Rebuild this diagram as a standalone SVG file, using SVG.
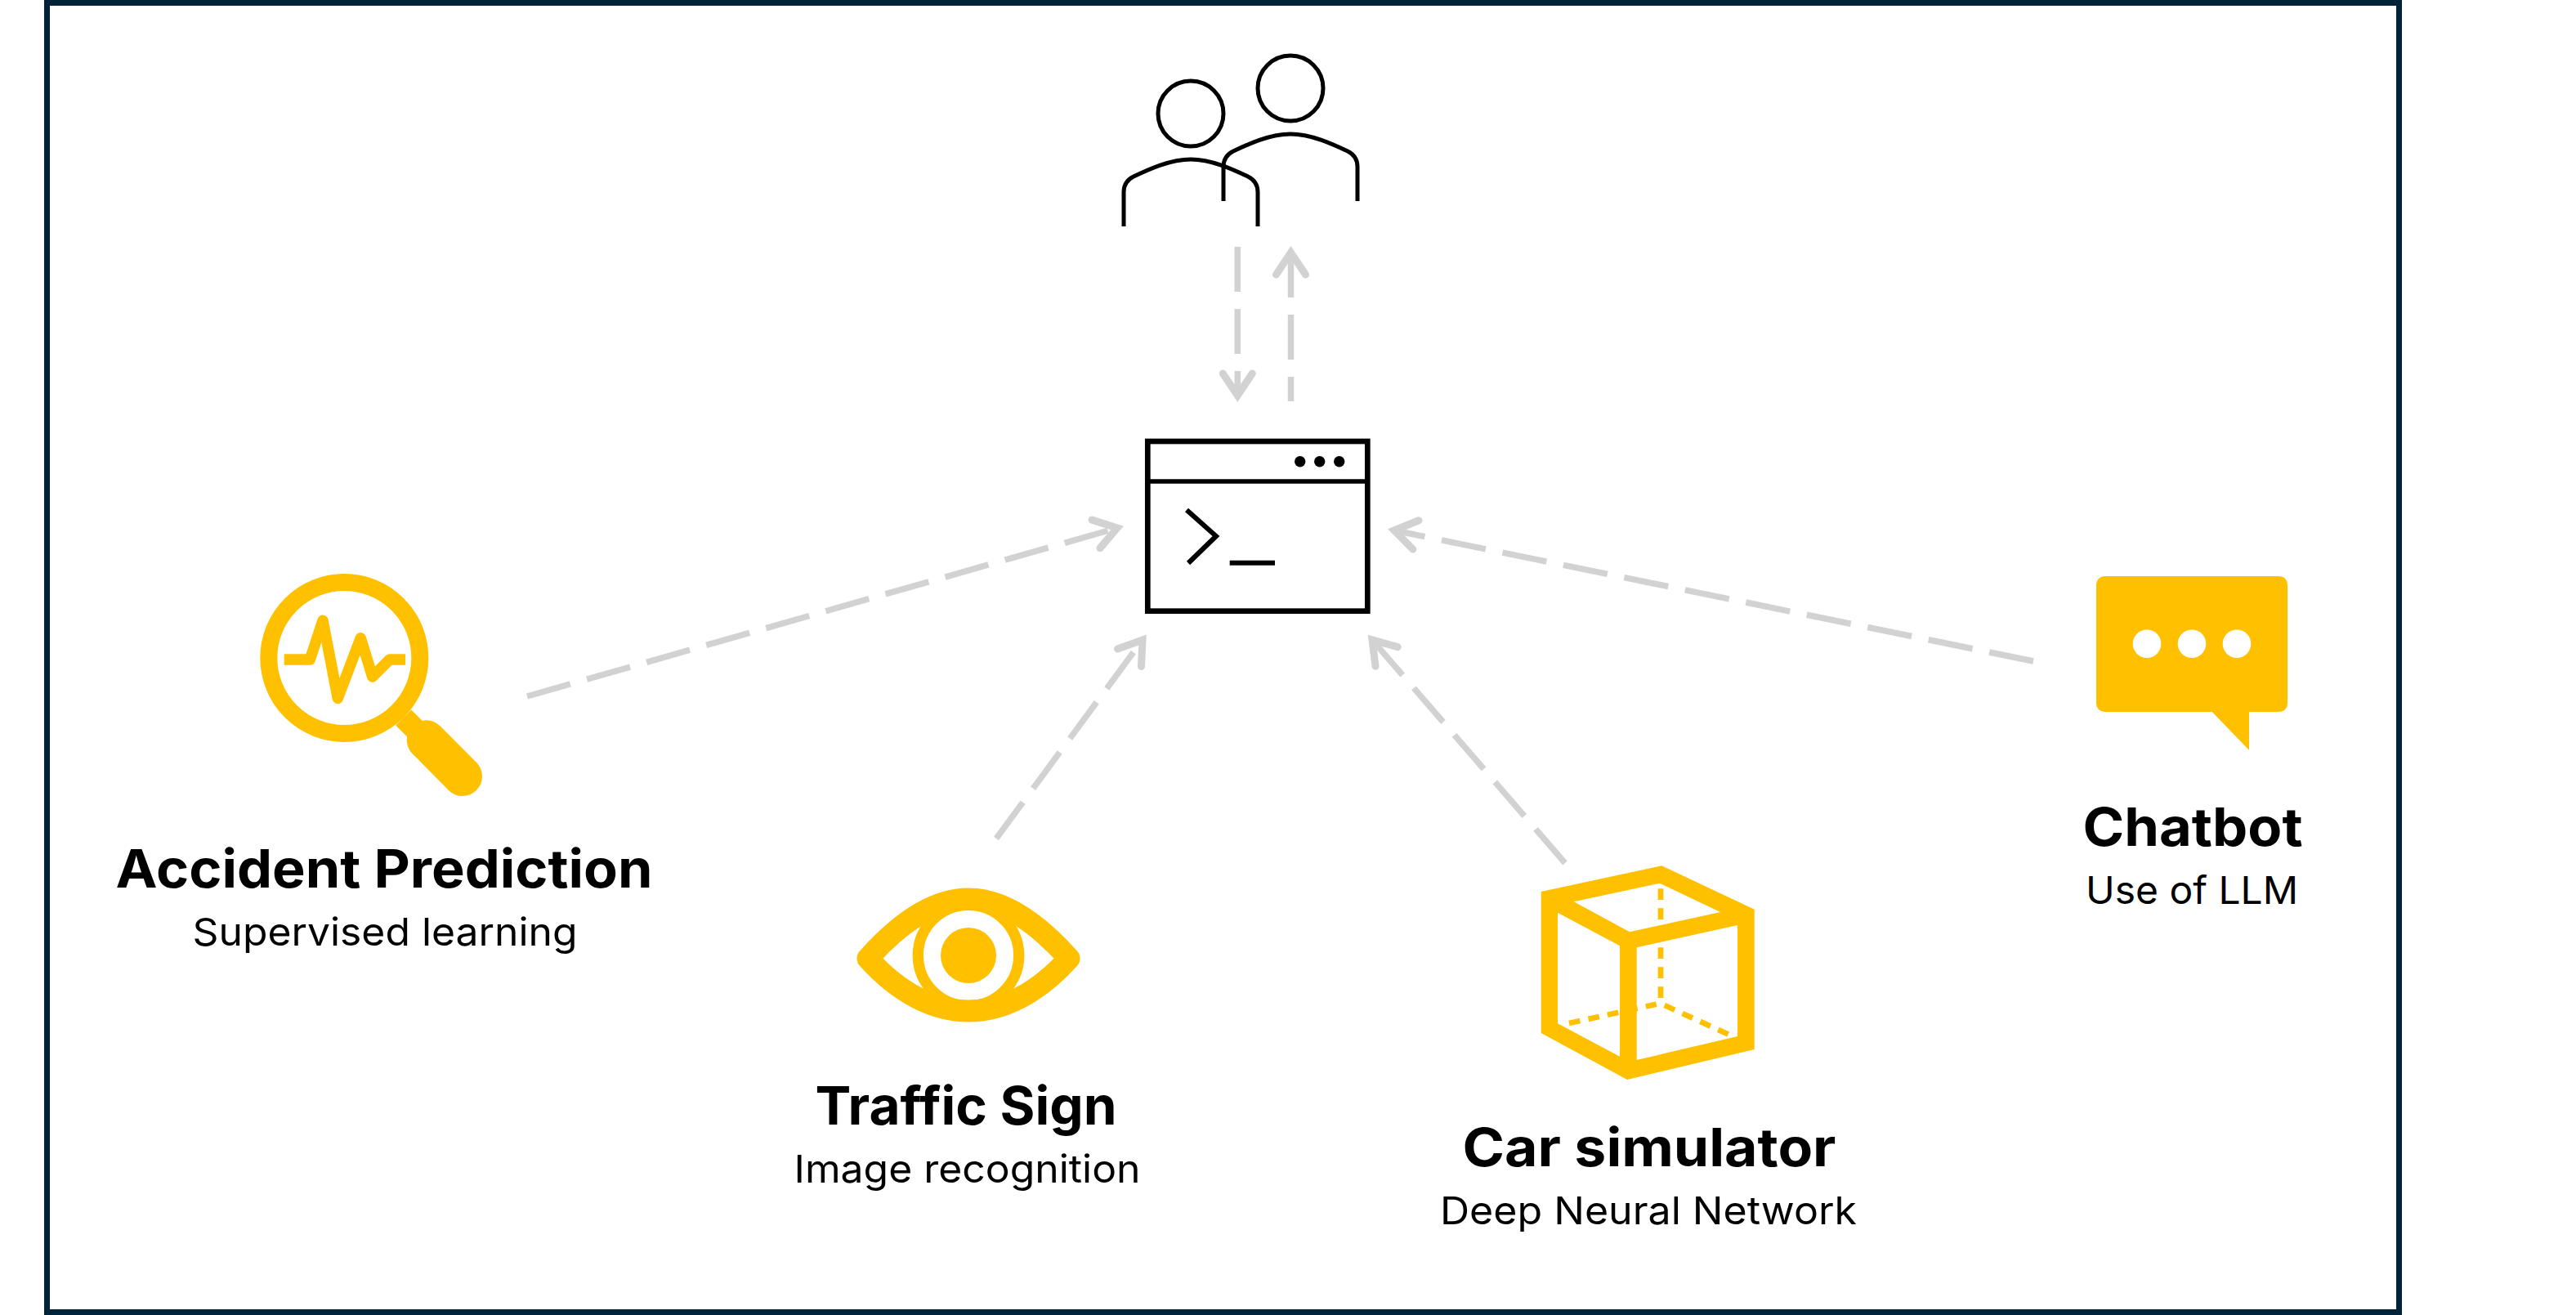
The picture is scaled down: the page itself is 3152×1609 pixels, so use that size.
<svg xmlns="http://www.w3.org/2000/svg" width="3152" height="1609" viewBox="0 0 3152 1609">
<style>
.t{font-family:"Inter","Noto Sans",sans-serif;font-weight:700;font-size:65px;fill:#000;text-anchor:middle}
.s{font-family:"Inter","Noto Sans",sans-serif;font-size:47px;fill:#000;text-anchor:middle}
.c{fill:none;stroke:#d2d2d2;stroke-width:7.5;stroke-dasharray:55 21}
.k{fill:none;stroke:#000;stroke-width:5}
.y{fill:#ffc000}
.yl{fill:none;stroke:#ffc000}
</style>
<defs>
<marker id="h" markerUnits="userSpaceOnUse" markerWidth="60" markerHeight="60" refX="0" refY="0" viewBox="-40 -30 60 60" orient="auto" overflow="visible">
<path d="M-27,-18 L0,0 L-27,18" fill="none" stroke="#d2d2d2" stroke-width="9" stroke-linecap="round"/>
</marker>
</defs>
<rect width="3152" height="1609" fill="#fff"/>
<rect id="frame" x="57.5" y="3.5" width="2878" height="1602" fill="#fff" stroke="#002337" stroke-width="7"/>
<g id="connectors">
<path class="c" d="M1514.3,302 V484" marker-end="url(#h)"/>
<path class="c" d="M1579.5,491 V309" stroke-dashoffset="25" marker-end="url(#h)"/>
<path class="c" d="M645,852 L1367,646" marker-end="url(#h)"/>
<path class="c" d="M2488,809 L1706,649" marker-end="url(#h)"/>
<path class="c" d="M1219,1026 L1398,783" marker-end="url(#h)"/>
<path class="c" d="M1915,1056 L1679,783" marker-end="url(#h)"/>
</g>
<g id="users">
<circle class="k" cx="1457" cy="139" r="40"/>
<circle class="k" cx="1579" cy="108" r="40"/>
<path class="k" d="M1375,277 V235 Q1375,222 1387,216 C1406,207 1432,195 1457,195 C1482,195 1508,207 1527,216 Q1539,222 1539,235 V277"/>
<path class="k" d="M1497,246 V204 Q1497,191 1509,185 C1528,176 1554,164 1579,164 C1604,164 1630,176 1649,185 Q1661,191 1661,204 V246"/>
</g>
<g id="app">
<rect x="1404.3" y="540" width="269" height="207.7" fill="none" stroke="#000" stroke-width="6.7"/>
<path d="M1404,589 H1674" fill="none" stroke="#000" stroke-width="5.6"/>
<circle cx="1590.7" cy="564.8" r="6.7"/><circle cx="1614.7" cy="564.8" r="6.7"/><circle cx="1638.7" cy="564.8" r="6.7"/>
<path d="M1452,624 L1488,656 L1454,689 M1504.7,688.8 H1560" fill="none" stroke="#000" stroke-width="6"/>
</g>
<g id="accident">
<circle class="yl" cx="421.3" cy="805" r="92.5" stroke-width="21"/>
<path class="yl" d="M493.7,878 L525,909" stroke-width="27"/>
<path class="yl" d="M521.7,905.3 L566,950" stroke-width="48" stroke-linecap="round"/>
<path class="yl" d="M347.7,807 H379.3 L395,759.3 L413.3,854.3 L441.3,780.7 L455.7,828 L476.7,807 H496" stroke-width="13.5" stroke-linejoin="round"/>
<text class="t" x="470" y="1086" textLength="657" lengthAdjust="spacingAndGlyphs">Accident Prediction</text>
<text class="s" x="471" y="1157" textLength="471" lengthAdjust="spacingAndGlyphs">Supervised learning</text>
</g>
<g id="traffic">
<path class="yl" d="M1062,1172.7 C1100,1130 1143,1100 1185,1100 C1227,1100 1270,1130 1308,1172.7 C1270,1215 1227,1237 1185,1237 C1143,1237 1100,1215 1062,1172.7Z" stroke-width="27" stroke-linejoin="round"/>
<circle class="yl" cx="1185" cy="1169" r="61.7" stroke-width="13.3"/>
<circle class="y" cx="1185" cy="1169" r="34"/>
<text class="t" x="1182" y="1376" textLength="369" lengthAdjust="spacingAndGlyphs">Traffic Sign</text>
<text class="s" x="1183.5" y="1447" textLength="424" lengthAdjust="spacingAndGlyphs">Image recognition</text>
</g>
<g id="car">
<path class="y" fill-rule="evenodd" d="M1885.7,1091 L2033.3,1059.3 L2146.7,1112.7 V1284 L1991,1321 L1885.7,1264Z M1925.7,1103.3 L2030.7,1080.7 L2105,1116 L1994,1140.3Z M1906,1116.7 L1982,1157.3 V1292.7 L1906,1252.3Z M2002.7,1159.3 L2126,1132 V1268 L2002.7,1297Z"/>
<path class="yl" d="M2032,1087.3 V1221.7" stroke-width="6.7" stroke-dasharray="13.6 10.4"/>
<path class="yl" d="M1920,1252 L2026.7,1228.7" stroke-width="6.7" stroke-dasharray="13.7 10.3"/>
<path class="yl" d="M2036.7,1230 L2115,1265.7" stroke-width="6.7" stroke-dasharray="13.7 10.3"/>
<text class="t" x="2018" y="1427" textLength="457" lengthAdjust="spacingAndGlyphs">Car simulator</text>
<text class="s" x="2017" y="1498" textLength="510" lengthAdjust="spacingAndGlyphs">Deep Neural Network</text>
</g>
<g id="chatbot">
<rect class="y" x="2565" y="705" width="234" height="166" rx="10"/>
<path class="y" d="M2705.7,870 L2752,917.7 V870Z"/>
<circle cx="2627" cy="787.7" r="17.3" fill="#fff"/><circle cx="2682" cy="787.7" r="17.3" fill="#fff"/><circle cx="2737" cy="787.7" r="17.3" fill="#fff"/>
<text class="t" x="2683" y="1035" textLength="269" lengthAdjust="spacingAndGlyphs">Chatbot</text>
<text class="s" x="2682" y="1106" textLength="260" lengthAdjust="spacingAndGlyphs">Use of LLM</text>
</g>
</svg>
